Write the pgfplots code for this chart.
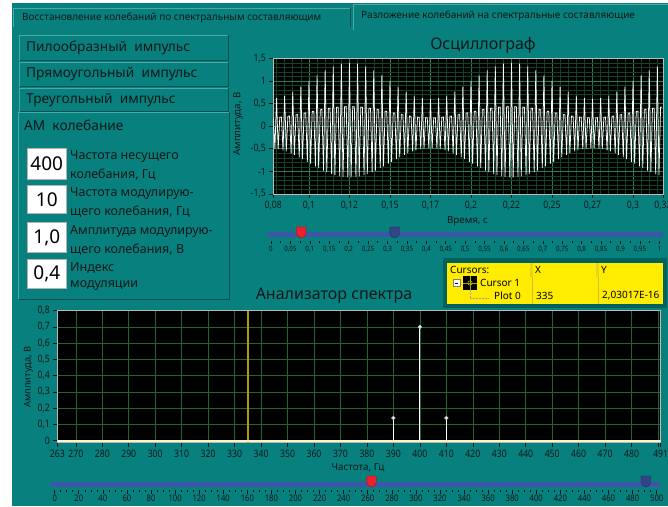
\documentclass[border=0pt]{standalone}
\usepackage{fontspec}
\setmainfont{Noto Sans}
\newfontfamily\cond[FakeStretch=0.85]{Noto Sans}
\usepackage{pgfplots}
\pgfplotsset{compat=1.18}

\definecolor{teal0}{RGB}{8,128,126}
\definecolor{tealL}{RGB}{70,170,166}
\definecolor{tealD}{RGB}{0,82,82}
\definecolor{txt}{RGB}{12,24,24}
\definecolor{gmaj}{RGB}{38,128,78}
\definecolor{gmin}{RGB}{18,66,38}
\definecolor{gspec}{RGB}{28,102,52}
\definecolor{sblue}{RGB}{62,86,170}
\definecolor{sred}{RGB}{236,32,44}
\definecolor{cyel}{RGB}{255,236,0}
\definecolor{curs}{RGB}{176,156,0}
\definecolor{basel}{RGB}{246,244,200}

\pgfdeclareplotmark{thumb}{%
  \pgfpathmoveto{\pgfpoint{-4.8pt}{8pt}}%
  \pgfpathlineto{\pgfpoint{4.8pt}{8pt}}%
  \pgfpathlineto{\pgfpoint{4.8pt}{1.5pt}}%
  \pgfpathcurveto{\pgfpoint{4.8pt}{-1pt}}{\pgfpoint{2pt}{-2.8pt}}{\pgfpoint{0pt}{-3pt}}%
  \pgfpathcurveto{\pgfpoint{-2pt}{-2.8pt}}{\pgfpoint{-4.8pt}{-1pt}}{\pgfpoint{-4.8pt}{1.5pt}}%
  \pgfpathclose
  \pgfusepathqfillstroke}

\begin{document}
\begin{tikzpicture}[x=1pt,y=1pt]
\path[use as bounding box] (0,0) rectangle (668,506);
\fill[white] (0,0) rectangle (668,506);
\fill[teal0] (12,0) rectangle (668,503);

\begin{scope}[yscale=-1, shift={(0,-506)}]
% tabs
\fill[teal0] (13,8) rectangle (351,27);
\draw[tealL, line width=0.8] (13.4,27)--(13.4,8.4)--(351,8.4);
\draw[tealD, line width=0.8] (350.6,8.4)--(350.6,27);
\node[anchor=west, inner sep=0, font=\fontsize{10}{12}\selectfont, text=txt] at (22,17.5) {Восстановление колебаний по спектральным составляющим};
\draw[tealL, line width=0.8] (353.4,30)--(353.4,4.4)--(668,4.4);
\node[anchor=west, inner sep=0, font=\fontsize{10}{12}\selectfont, text=txt] at (361,15.5) {Разложение колебаний на спектральные составляющие};

% buttons
\foreach \ya/\yb/\t in {35/61/{Пилообразный\ \ импульс},62/87/{Прямоугольный\ \ импульс},88/112/{Треугольный\ \ импульс}}{
  \fill[teal0] (19,\ya) rectangle (229,\yb);
  \draw[tealL, line width=1] (19.5,\yb)--(19.5,\ya+0.5)--(229,\ya+0.5);
  \draw[tealD, line width=1] (19.5,\yb-0.5)--(228.5,\yb-0.5)--(228.5,\ya);
  \node[anchor=west, inner sep=0, font=\fontsize{13.7}{16}\selectfont, text=txt] at (26,{(\ya+\yb)/2}) {\t};
}
% AM panel
\draw[tealL, line width=1] (18.5,299)--(18.5,112.5)--(230,112.5);
\draw[tealD, line width=1.4] (18.5,299.3)--(229.7,299.3)--(229.7,112.5);
\node[anchor=west, inner sep=0, font=\fontsize{13.7}{16}\selectfont, text=txt] at (24,125) {АМ\ \ колебание};

\foreach \ya/\yb/\v/\la/\lb in {148/179/400/{Частота несущего}/{колебания, Гц},185/213.5/10/{Частота модулирую-}/{щего колебания, Гц},222.5/252/{1,0}/{Амплитуда модулирую-}/{щего колебания, В},259/288.5/{0,4}/{Индекс}/{модуляции}}{
  \fill[white] (27,\ya) rectangle (66.5,\yb);
  \draw[gray!60, line width=0.5] (27,\ya) rectangle (66.5,\yb);
  \node[inner sep=0, font=\fontsize{19}{21}\selectfont, text=black] at (46.8,{(\ya+\yb)/2+0.5}) {\v};
  \node[anchor=west, inner sep=0, font=\fontsize{12.5}{14}\selectfont, text=txt] at (70,{\ya+9}) {\la};
  \node[anchor=west, inner sep=0, font=\fontsize{12.5}{14}\selectfont, text=txt] at (70,{\ya+27}) {\lb};
}

% titles and labels
\node[font=\fontsize{16}{18}\selectfont, text=txt] at (483,45) {Осциллограф};
\node[font=\fontsize{16}{18}\selectfont, text=txt] at (334,295.5) {Анализатор спектра};
\node[font=\fontsize{9.8}{11}\selectfont, text=txt] at (467.5,221.5) {Время, с};
\node[rotate=90, font=\fontsize{9.8}{11}\selectfont, text=txt] at (238,124) {Амплитуда, В};
\node[rotate=90, font=\fontsize{9.4}{11}\selectfont, text=txt] at (28.5,377) {Амплитуда, В};
\node[font=\fontsize{9.8}{11}\selectfont, text=txt] at (358,468) {Частота, Гц};

% cursor table
\fill[tealD!70!teal0] (443,258.5) rectangle (667,308);
\fill[cyel] (447,263) rectangle (663,304);
\fill[cyel!80!gray] (529.5,263) rectangle (532.5,277);
\fill[cyel!80!gray] (595.5,263) rectangle (598.5,277);
\draw[cyel!60!gray, line width=0.5] (532.5,277)--(532.5,304) (598.5,277)--(598.5,304);
\node[anchor=west, inner sep=0, font=\bfseries\fontsize{10}{12}\selectfont] at (450,270) {Cursors:};
\node[anchor=west, inner sep=0, font=\bfseries\fontsize{10}{12}\selectfont] at (535,270) {X};
\node[anchor=west, inner sep=0, font=\bfseries\fontsize{10}{12}\selectfont] at (601,270) {Y};
\draw[gray, fill=white, line width=0.4] (453,279.5) rectangle (460,286.5);
\draw[blue!60!black, line width=0.6] (454.6,283)--(458.4,283);
\fill[black] (463,276) rectangle (477,290);
\draw[cyel!70!black, line width=0.6] (463,283)--(477,283) (470,276)--(470,290);
\draw[cyel!70!black, line width=0.6] (470,283) circle (2.2);
\draw[gray!70, densely dotted, line width=0.5] (470,290)--(470,298)--(488,298);
\node[anchor=west, inner sep=0, font=\fontsize{10}{12}\selectfont] at (480,282.5) {Cursor 1};
\node[anchor=west, inner sep=0, font=\fontsize{10}{12}\selectfont] at (494,296) {Plot 0};
\node[anchor=west, inner sep=0, font=\fontsize{10}{12}\selectfont] at (536,296) {335};
\node[anchor=west, inner sep=0, font=\fontsize{10}{12}\selectfont] at (602,296) {2,03017E-16};
\end{scope}

% ===== Oscilloscope =====
\begin{axis}[
  at={(273.3pt,312pt)}, anchor=south west, scale only axis,
  width=389.7pt, height=135.7pt,
  xmin=78, xmax=318.5, ymin=-1.5, ymax=1.5,
  axis background/.style={fill=black},
  axis line style={draw=gray!55, line width=0.8pt},
  tick pos=left, tick align=outside,
  major tick length=4pt, minor tick length=0pt,
  tick style={txt, line width=0.6pt},
  grid=both,
  major grid style={gmaj, line width=0.6pt},
  minor grid style={gmin, line width=0.5pt},
  xtick={78,100,125,150,175,200,225,250,275,300,318.5},
  xticklabels={{0,08},{0,1},{0,12},{0,15},{0,17},{0,2},{0,22},{0,25},{0,27},{0,3},{0,32}},
  minor xtick={80,85,...,315},
  ytick={-1.5,-1,-0.5,0,0.5,1,1.5},
  yticklabels={{-1,5},{-1},{-0,5},0,{0,5},1,{1,5}},
  minor ytick={-1.4,-1.3,-1.2,-1.1,-0.9,-0.8,-0.7,-0.6,-0.4,-0.3,-0.2,-0.1,0.1,0.2,0.3,0.4,0.6,0.7,0.8,0.9,1.1,1.2,1.3,1.4},
  ticklabel style={font=\cond\fontsize{10.2}{11}\selectfont, text=txt},
]
\addplot[white, line width=0.75pt] coordinates {
(78,0.188)(79,-0.496)(80,0.620)(81,-0.508)(82,0.197)(83,0.201)(84,-0.536)(85,0.676)(86,-0.560)(87,0.219)(88,0.224)(89,-0.603)
(90,0.765)(91,-0.636)(92,0.249)(93,0.256)(94,-0.690)(95,0.876)(96,-0.729)(97,0.286)(98,0.294)(99,-0.789)
(100,1.000)(101,-0.829)(102,0.324)(103,0.332)(104,-0.889)(105,1.124)(106,-0.928)(107,0.362)(108,0.369)(109,-0.982)
(110,1.235)(111,-1.015)(112,0.394)(113,0.399)(114,-1.058)(115,1.324)(116,-1.082)(117,0.417)(118,0.421)(119,-1.110)
(120,1.380)(121,-1.122)(122,0.430)(123,0.432)(124,-1.132)(125,1.400)(126,-1.132)(127,0.432)(128,0.430)(129,-1.122)
(130,1.380)(131,-1.110)(132,0.421)(133,0.417)(134,-1.082)(135,1.324)(136,-1.058)(137,0.399)(138,0.394)(139,-1.015)
(140,1.235)(141,-0.982)(142,0.369)(143,0.362)(144,-0.928)(145,1.124)(146,-0.889)(147,0.332)(148,0.324)(149,-0.829)
(150,1.000)(151,-0.789)(152,0.294)(153,0.286)(154,-0.729)(155,0.876)(156,-0.690)(157,0.256)(158,0.249)(159,-0.636)
(160,0.765)(161,-0.603)(162,0.224)(163,0.219)(164,-0.560)(165,0.676)(166,-0.536)(167,0.201)(168,0.197)(169,-0.508)
(170,0.620)(171,-0.496)(172,0.188)(173,0.186)(174,-0.486)(175,0.600)(176,-0.486)(177,0.186)(178,0.188)(179,-0.496)
(180,0.620)(181,-0.508)(182,0.197)(183,0.201)(184,-0.536)(185,0.676)(186,-0.560)(187,0.219)(188,0.224)(189,-0.603)
(190,0.765)(191,-0.636)(192,0.249)(193,0.256)(194,-0.690)(195,0.876)(196,-0.729)(197,0.286)(198,0.294)(199,-0.789)
(200,1.000)(201,-0.829)(202,0.324)(203,0.332)(204,-0.889)(205,1.124)(206,-0.928)(207,0.362)(208,0.369)(209,-0.982)
(210,1.235)(211,-1.015)(212,0.394)(213,0.399)(214,-1.058)(215,1.324)(216,-1.082)(217,0.417)(218,0.421)(219,-1.110)
(220,1.380)(221,-1.122)(222,0.430)(223,0.432)(224,-1.132)(225,1.400)(226,-1.132)(227,0.432)(228,0.430)(229,-1.122)
(230,1.380)(231,-1.110)(232,0.421)(233,0.417)(234,-1.082)(235,1.324)(236,-1.058)(237,0.399)(238,0.394)(239,-1.015)
(240,1.235)(241,-0.982)(242,0.369)(243,0.362)(244,-0.928)(245,1.124)(246,-0.889)(247,0.332)(248,0.324)(249,-0.829)
(250,1.000)(251,-0.789)(252,0.294)(253,0.286)(254,-0.729)(255,0.876)(256,-0.690)(257,0.256)(258,0.249)(259,-0.636)
(260,0.765)(261,-0.603)(262,0.224)(263,0.219)(264,-0.560)(265,0.676)(266,-0.536)(267,0.201)(268,0.197)(269,-0.508)
(270,0.620)(271,-0.496)(272,0.188)(273,0.186)(274,-0.486)(275,0.600)(276,-0.486)(277,0.186)(278,0.188)(279,-0.496)
(280,0.620)(281,-0.508)(282,0.197)(283,0.201)(284,-0.536)(285,0.676)(286,-0.560)(287,0.219)(288,0.224)(289,-0.603)
(290,0.765)(291,-0.636)(292,0.249)(293,0.256)(294,-0.690)(295,0.876)(296,-0.729)(297,0.286)(298,0.294)(299,-0.789)
(300,1.000)(301,-0.829)(302,0.324)(303,0.332)(304,-0.889)(305,1.124)(306,-0.928)(307,0.362)(308,0.369)(309,-0.982)
(310,1.235)(311,-1.015)(312,0.394)(313,0.399)(314,-1.058)(315,1.324)(316,-1.082)(317,0.417)(318,0.421)
};
\end{axis}

% ===== Top slider =====
\begin{axis}[
  at={(271pt,265pt)}, anchor=south west, scale only axis,
  width=388.3pt, height=14pt,
  xmin=0, xmax=1, ymin=0, ymax=14, clip=false,
  axis y line=none, axis x line=bottom,
  x axis line style={draw=none,-},
  xtick={0,0.05,0.1,0.15,0.2,0.25,0.3,0.35,0.4,0.45,0.5,0.55,0.6,0.65,0.7,0.75,0.8,0.85,0.9,0.95,1},
  xticklabels={0,{0,05},{0,1},{0,15},{0,2},{0,25},{0,3},{0,35},{0,4},{0,45},{0,5},{0,55},{0,6},{0,65},{0,7},{0,75},{0,8},{0,85},{0,9},{0,95},1},
  minor x tick num=1, tick align=outside,
  major tick length=3.5pt, minor tick length=1.8pt,
  tick style={txt, line width=0.6pt},
  xticklabel style={font=\cond\fontsize{7.3}{8}\selectfont, text=txt, inner sep=1.5pt},
]
\addplot[sblue, line width=5pt] coordinates {(-0.008,6)(1.01,6)};
\addplot[only marks, mark=thumb, mark options={fill=sred, draw=sred!60!black, line width=0.3pt}] coordinates {(0.078,6)};
\addplot[only marks, mark=thumb, mark options={fill=sblue!80!black, draw=sblue!50!black, line width=0.3pt}] coordinates {(0.3185,6)};
\end{axis}

% ===== Spectrum =====
\begin{axis}[
  at={(57.3pt,63.5pt)}, anchor=south west, scale only axis,
  width=603.4pt, height=131.8pt,
  xmin=263, xmax=491, ymin=-0.011, ymax=0.8,
  axis background/.style={fill=black},
  axis line style={draw=gray!55, line width=0.8pt},
  tick pos=left, tick align=outside, major tick length=4pt,
  tick style={txt, line width=0.6pt},
  grid=major, major grid style={gspec, line width=0.6pt},
  xtick={263,270,280,290,300,310,320,330,340,350,360,370,380,390,400,410,420,430,440,450,460,470,480,490,491},
  xticklabels={263,270,280,290,300,310,320,330,340,350,360,370,380,390,400,410,420,430,440,450,460,470,480,{},491},
  ytick={0,0.1,0.2,0.3,0.4,0.5,0.6,0.7,0.8},
  yticklabels={0,{0,1},{0,2},{0,3},{0,4},{0,5},{0,6},{0,7},{0,8}},
  ticklabel style={font=\cond\fontsize{10.2}{11}\selectfont, text=txt},
]
\addplot[curs, line width=1.3pt] coordinates {(335,-0.011)(335,0.8)};
\addplot[basel, line width=1.8pt] coordinates {(263,0)(491,0)};
\addplot[white, ycomb, line width=0.8pt, mark=*, mark size=1.7pt, mark options={fill=white, draw=gray!50}] coordinates {(390,0.14)(400,0.70)(410,0.14)};
\end{axis}

% ===== Bottom slider =====
\begin{axis}[
  at={(54.7pt,16pt)}, anchor=south west, scale only axis,
  width=602pt, height=14pt,
  xmin=0, xmax=500, ymin=0, ymax=14, clip=false,
  axis y line=none, axis x line=bottom,
  x axis line style={draw=none,-},
  xtick={0,20,...,500},
  minor x tick num=3, tick align=outside,
  major tick length=3.5pt, minor tick length=1.8pt,
  tick style={txt, line width=0.6pt},
  /pgf/number format/assume math mode=true,
  xticklabel style={font=\cond\fontsize{9}{10}\selectfont, text=txt, inner sep=1.5pt},
]
\addplot[sblue, line width=5pt] coordinates {(-3.3,6)(503,6)};
\addplot[only marks, mark=thumb, mark options={fill=sred, draw=sred!60!black, line width=0.3pt}] coordinates {(263,6)};
\addplot[only marks, mark=thumb, mark options={fill=sblue!80!black, draw=sblue!50!black, line width=0.3pt}] coordinates {(491,6)};
\end{axis}
\end{tikzpicture}
\end{document}
